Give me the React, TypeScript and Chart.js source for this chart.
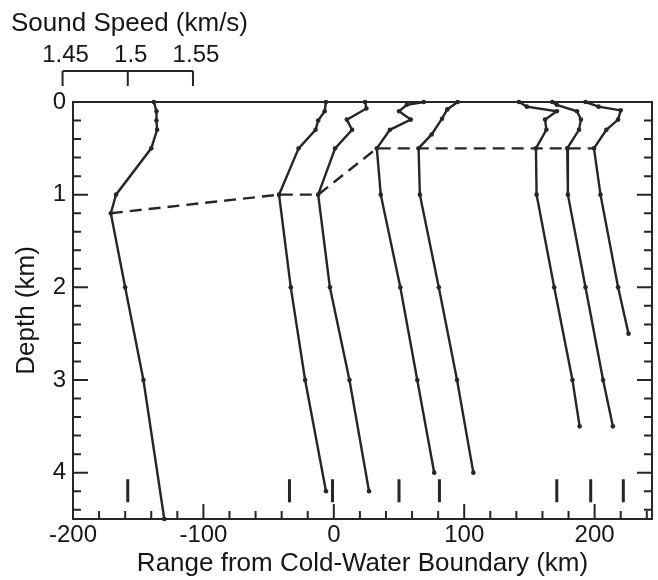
import React, { useEffect, useRef } from "react";
import { Chart, registerables } from "chart.js";

Chart.register(...registerables);

const FONT = "'Liberation Sans', Arial, Helvetica, sans-serif";
const INK = "#262626";
const TEXT = "#161616";

// Sound-speed profiles: range position (km) vs depth (km)
const p1Range = [-138, -136, -136, -135.5, -140, -167, -171, -160, -146, -130];
const p1Depth = [0, 0.1, 0.2, 0.3, 0.5, 1.0, 1.2, 2.0, 3.0, 4.5];
const p2Range = [-6, -7, -12, -14, -27, -42, -33, -22, -6];
const p2Depth = [0, 0.1, 0.2, 0.3, 0.5, 1.0, 2.0, 3.0, 4.2];
const p3Range = [24, 25, 10, 14, 1, -12, -3, 12, 27];
const p3Depth = [0, 0.07, 0.19, 0.3, 0.5, 1.0, 2.0, 3.0, 4.2];
const p4Range = [69, 56, 50, 59, 43, 33, 36, 51, 64, 77];
const p4Depth = [0, 0.03, 0.1, 0.19, 0.3, 0.5, 1.0, 2.0, 3.0, 4.0];
const p5Range = [95, 87, 83, 75, 65, 66, 80.5, 94.5, 107];
const p5Depth = [0, 0.08, 0.18, 0.35, 0.5, 1.0, 2.0, 3.0, 4.0];
const p6Range = [142, 148, 171, 162, 163, 155, 155.5, 169, 183, 188.5];
const p6Depth = [0, 0.05, 0.1, 0.19, 0.3, 0.5, 1.0, 2.0, 3.0, 3.5];
const p7Range = [167.5, 171, 186.5, 189.5, 188, 179, 179.5, 193, 206.5, 214];
const p7Depth = [0, 0.03, 0.1, 0.19, 0.3, 0.5, 1.0, 2.0, 3.0, 3.5];
const p8Range = [193, 203, 220, 218, 209, 199.5, 204.5, 218, 226];
const p8Depth = [0, 0.05, 0.09, 0.19, 0.3, 0.5, 1.0, 2.0, 2.5];

// Dashed line linking the sound-channel axis points
const dashRange = [-171, -42, -12, 33, 199.5];
const dashDepth = [1.2, 1.0, 1.0, 0.5, 0.5];

// Station marks near the bottom
const stationRange = [-158, -34, -1, 50, 81, 171, 197, 222];
const stationMarkDepth = [4.07, 4.32];

// Axis ticks
const depthTickLabels = [0, 1, 2, 3, 4];
const rangeTickLabels = [-200, -100, 0, 100, 200];
const depthMinorStep = 0.2;
const rangeMinorStep = 20;

// Sound speed scale (km/s): 1.5 km/s sits at the first station, 1 m/s = 1 km of range
const soundSpeedTicks = [1.45, 1.5, 1.55];
const soundSpeedTickLabels = ["1.45", "1.5", "1.55"];
const soundSpeedRefValue = 1.5;
const soundSpeedRefRange = -158;
const rangeKmPerSpeedUnit = 1000;

const profiles: [number[], number[]][] = [
  [p1Range, p1Depth],
  [p2Range, p2Depth],
  [p3Range, p3Depth],
  [p4Range, p4Depth],
  [p5Range, p5Depth],
  [p6Range, p6Depth],
  [p7Range, p7Depth],
  [p8Range, p8Depth],
];

const framePlugin = {
  id: "framePlugin",
  afterDraw(chart: any) {
    const { ctx, chartArea } = chart;
    const xs = chart.scales.x;
    const ys = chart.scales.y;
    const { left, right, top, bottom } = chartArea;
    ctx.save();
    ctx.strokeStyle = INK;
    ctx.lineWidth = 2;
    ctx.strokeRect(left, top, right - left, bottom - top);

    // depth ticks, left & right, pointing inward
    ctx.beginPath();
    for (let i = 0; i * depthMinorStep <= ys.max + 1e-9; i++) {
      const v = i * depthMinorStep;
      const major = Math.abs(v - Math.round(v)) < 1e-6;
      const len = major ? 15 : 8;
      const py = ys.getPixelForValue(v);
      ctx.moveTo(left, py);
      ctx.lineTo(left + len, py);
      ctx.moveTo(right, py);
      ctx.lineTo(right - len, py);
    }
    // range ticks, bottom, pointing up
    for (let v = xs.min; v <= xs.max + 1e-9; v += rangeMinorStep) {
      const major = Math.abs(v % 100) < 1e-6;
      const len = major ? 15 : 8;
      const px = xs.getPixelForValue(v);
      ctx.moveTo(px, bottom);
      ctx.lineTo(px, bottom - len);
    }
    ctx.stroke();

    // sound speed scale bracket
    const pxs = soundSpeedTicks.map((c) =>
      xs.getPixelForValue(soundSpeedRefRange + (c - soundSpeedRefValue) * rangeKmPerSpeedUnit)
    );
    const barY = 71;
    const tickEnd = 86;
    ctx.beginPath();
    ctx.moveTo(pxs[0], barY);
    ctx.lineTo(pxs[pxs.length - 1], barY);
    pxs.forEach((px) => {
      ctx.moveTo(px, barY);
      ctx.lineTo(px, tickEnd);
    });
    ctx.stroke();

    ctx.fillStyle = TEXT;
    ctx.font = `24px ${FONT}`;
    ctx.textAlign = "center";
    ctx.textBaseline = "alphabetic";
    pxs.forEach((px, i) => {
      ctx.fillText(soundSpeedTickLabels[i], px + 3, 62);
    });
    ctx.font = `26px ${FONT}`;
    ctx.textAlign = "left";
    ctx.fillText("Sound Speed (km/s)", 11, 31);
    ctx.restore();
  },
};

export default function App() {
  const ref = useRef<HTMLCanvasElement | null>(null);
  useEffect(() => {
    if (!ref.current) return;
    const datasets: any[] = [];
    profiles.forEach(([r, d]) => {
      datasets.push({
        data: r.map((x, i) => ({ x, y: d[i] })),
        showLine: true,
        borderColor: INK,
        backgroundColor: INK,
        borderWidth: 2.4,
        pointRadius: 2.3,
        pointBorderWidth: 0,
        pointBackgroundColor: INK,
        tension: 0,
        clip: false,
      });
    });
    datasets.push({
      data: dashRange.map((x, i) => ({ x, y: dashDepth[i] })),
      showLine: true,
      borderColor: INK,
      borderWidth: 2.4,
      borderDash: [12, 7],
      pointRadius: 0,
      tension: 0,
    });
    stationRange.forEach((x) => {
      datasets.push({
        data: stationMarkDepth.map((y) => ({ x, y })),
        showLine: true,
        borderColor: INK,
        borderWidth: 3,
        pointRadius: 0,
      });
    });

    const chart = new Chart(ref.current, {
      type: "scatter",
      data: { datasets },
      options: {
        animation: false,
        responsive: true,
        maintainAspectRatio: false,
        layout: { padding: { top: 102, right: 6, left: 0, bottom: 0 } },
        plugins: { legend: { display: false }, tooltip: { enabled: false } },
        scales: {
          x: {
            type: "linear",
            position: "bottom",
            min: -200,
            max: 244,
            afterBuildTicks: (s: any) => {
              s.ticks = rangeTickLabels.map((v) => ({ value: v }));
            },
            afterFit: (s: any) => {
              s.height = 61;
            },
            ticks: {
              font: { family: FONT, size: 24 },
              color: TEXT,
              padding: 2,
              maxRotation: 0,
              autoSkip: false,
            },
            grid: { display: false, drawTicks: false },
            border: { display: false },
            title: {
              display: true,
              text: "Range from Cold-Water Boundary (km)",
              font: { family: FONT, size: 26 },
              color: TEXT,
              padding: { top: 0, bottom: 1 },
            },
          },
          y: {
            type: "linear",
            position: "left",
            min: 0,
            max: 4.5,
            reverse: true,
            afterBuildTicks: (s: any) => {
              s.ticks = depthTickLabels.map((v) => ({ value: v }));
            },
            afterFit: (s: any) => {
              s.width = 73;
            },
            ticks: {
              font: { family: FONT, size: 24 },
              color: TEXT,
              padding: 7,
              autoSkip: false,
            },
            grid: { display: false, drawTicks: false },
            border: { display: false },
            title: {
              display: true,
              text: "Depth (km)",
              font: { family: FONT, size: 26 },
              color: TEXT,
              padding: { top: 11, bottom: 0 },
            },
          },
        },
      },
      plugins: [framePlugin],
    });
    return () => chart.destroy();
  }, []);

  return (
    <div style={{ position: "absolute", left: 0, top: 0, width: 658, height: 580, background: "#fff" }}>
      <canvas ref={ref} />
    </div>
  );
}
